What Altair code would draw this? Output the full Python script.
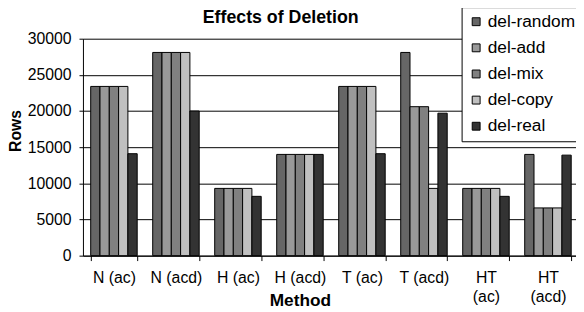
import altair as alt
import pandas as pd

methods = ["N (ac)", "N (acd)", "H (ac)", "H (acd)", "T (ac)", "T (acd)", "HT (ac)", "HT (acd)"]
series = ["del-random", "del-add", "del-mix", "del-copy", "del-real"]
del_random = [23400, 28100, 9300, 14000, 23400, 28100, 9300, 14000]
del_add = [23400, 28100, 9300, 14000, 23400, 20600, 9300, 6600]
del_mix = [23400, 28100, 9300, 14000, 23400, 20600, 9300, 6600]
del_copy = [23400, 28100, 9300, 14000, 23400, 9300, 9300, 6600]
del_real = [14100, 20000, 8200, 14000, 14100, 19700, 8200, 13900]
colors = ["#666666", "#999999", "#808080", "#c0c0c0", "#333333"]

rows = []
for s, vals in zip(series, [del_random, del_add, del_mix, del_copy, del_real]):
    for m, v in zip(methods, vals):
        rows.append({"Method": m, "Series": s, "Rows": v})
df = pd.DataFrame(rows)

FONT = "Liberation Sans"

chart = alt.Chart(df).mark_bar(stroke="black", strokeWidth=1).encode(
    x=alt.X("Method:N", sort=methods,
            scale=alt.Scale(paddingInner=0.25, paddingOuter=0.125),
            axis=alt.Axis(title="Method", labelAngle=0, tickBand="extent",
                          domainColor="black", tickColor="black", tickSize=5,
                          labelFont=FONT, labelFontSize=16, labelColor="black",
                          labelPadding=9, labelLineHeight=20,
                          labelExpr="indexof(datum.label, 'HT') == 0 ? split(datum.label, ' ') : datum.label",
                          titleFont=FONT, titleFontSize=17.5, titleFontWeight="bold",
                          titleColor="black", titleX=220, titleY=51,
                          titleBaseline="alphabetic", grid=False)),
    xOffset=alt.XOffset("Series:N", sort=series,
                        scale=alt.Scale(paddingInner=0, paddingOuter=0)),
    y=alt.Y("Rows:Q", scale=alt.Scale(domain=[0, 30000], nice=False),
            axis=alt.Axis(title="Rows", values=[0, 5000, 10000, 15000, 20000, 25000, 30000],
                          format="d", domainColor="black", tickColor="black", tickSize=4,
                          gridColor="black", gridWidth=1, gridOpacity=1,
                          labelFont=FONT, labelFontSize=16, labelColor="black",
                          labelPadding=8,
                          titleFont=FONT, titleFontSize=16, titleFontWeight="bold",
                          titleColor="black", titleX=-68, titleY=93, titleAngle=-90,
                          titleAlign="center", titleBaseline="middle")),
    color=alt.Color("Series:N", sort=series,
                    scale=alt.Scale(domain=series, range=colors),
                    legend=alt.Legend(title=None, orient="none", legendX=384, legendY=-32,
                                      fillColor="white", strokeColor="black",
                                      padding=6, rowPadding=7.5,
                                      symbolType="square", symbolSize=64,
                                      symbolStrokeColor="black", symbolStrokeWidth=1,
                                      symbolOpacity=1,
                                      labelFont=FONT, labelFontSize=17.5, labelColor="black",
                                      labelOffset=3)),
).properties(
    width=503, height=220,
    title=alt.TitleParams("Effects of Deletion", font=FONT, fontSize=18, fontWeight="bold",
                          color="black", anchor="middle", dx=-51, dy=27, offset=6),
    autosize=alt.AutoSizeParams(type="none"),
    padding={"left": 76, "top": 29, "right": -3, "bottom": 55},
    background="white",
).configure_view(stroke=None)

chart.save("out.html", embed_options={"renderer": "svg", "actions": False})
